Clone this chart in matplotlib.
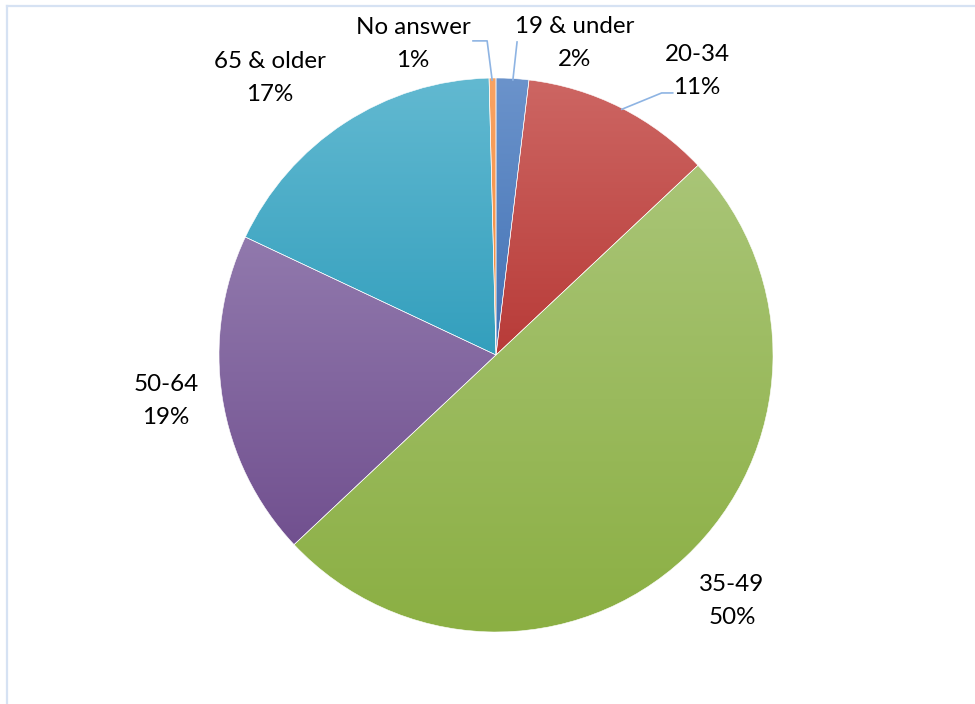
import numpy as np
import matplotlib.pyplot as plt
from matplotlib.colors import LinearSegmentedColormap
from matplotlib.lines import Line2D

# slices, clockwise from 12 o'clock
categories = ["19 & under", "20-34", "35-49", "50-64", "65 & older", "No answer"]
shares = [1.9, 11.1, 50.0, 19.0, 17.6, 0.4]
pct_labels = ["2%", "11%", "50%", "19%", "17%", "1%"]

# gradient colours per slice (top, bottom)
grad_colors = [
    ("#6B93CB", "#4272B5"),
    ("#CD6663", "#B83B38"),
    ("#A9C577", "#8BAF43"),
    ("#9179AD", "#71508F"),
    ("#62B9D1", "#339FBD"),
    ("#F9A363", "#F38A3A"),
]

# label anchor positions in pie units (radius = 1)
label_pos = [(0.285, 1.126), (0.726, 1.025), (0.852, -0.888),
             (-1.191, -0.166), (-0.816, 1.0), (-0.30, 1.123)]

LEADER = "#8EB4E3"
FONT = "Lato"

W, H = 975, 704
CX, CY, R = 496, 355, 277

fig = plt.figure(figsize=(W / 100, H / 100), dpi=100)
ax = fig.add_axes([(CX - R) / W, (H - CY - R) / H, 2 * R / W, 2 * R / H])
ax.set_xlim(-1, 1)
ax.set_ylim(-1, 1)
ax.set_aspect("equal")
ax.axis("off")

wedges, _ = ax.pie(shares, startangle=90, counterclock=False, radius=1,
                   wedgeprops=dict(linewidth=0.4, edgecolor="#ffffff"))

for w, (top, bot) in zip(wedges, grad_colors):
    ext = w.get_path().get_extents()
    cmap = LinearSegmentedColormap.from_list("g", [bot, top])
    grad = np.linspace(0, 1, 256).reshape(-1, 1)
    im = ax.imshow(grad, cmap=cmap, origin="lower", aspect="auto",
                   extent=[ext.x0, ext.x1, ext.y0, ext.y1], zorder=1)
    im.set_clip_path(w)
    w.set_facecolor("none")
    w.set_zorder(2)

ax.set_xlim(-1, 1)
ax.set_ylim(-1, 1)

for cat, pct, (x, y) in zip(categories, pct_labels, label_pos):
    ax.text(x, y, f"{cat}\n{pct}", ha="center", va="center", fontsize=17.4,
            family=FONT, color="#000000", linespacing=1.75, clip_on=False)

# leader lines
leaders = [
    ([-0.083, -0.032, -0.014], [1.134, 1.134, 0.993]),
    ([0.076, 0.061], [1.13, 0.993]),
    ([0.454, 0.598, 0.638], [0.887, 0.946, 0.946]),
]
for xs, ys in leaders:
    ax.plot(xs, ys, color=LEADER, lw=1.2, clip_on=False, zorder=3)

# chart area border (top and left visible)
fig.add_artist(Line2D([7 / W, 1], [1 - 5.5 / H, 1 - 5.5 / H], color="#D6E2F3", lw=1.6))
fig.add_artist(Line2D([7 / W, 7 / W], [0, 1 - 5.5 / H], color="#D6E2F3", lw=1.6))

fig.savefig("out.png", dpi=100, facecolor="white")
